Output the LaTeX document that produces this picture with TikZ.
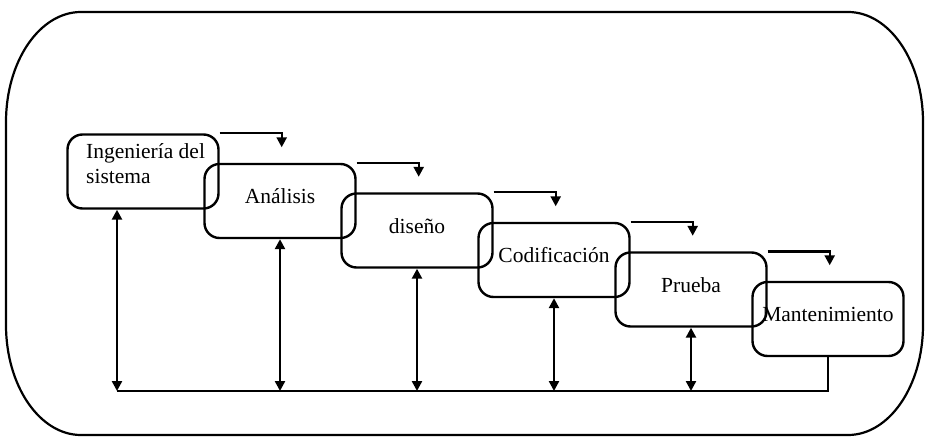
\documentclass[tikz,border=0pt]{standalone}
\usepackage{fontspec}
\setmainfont{Liberation Serif}
\usetikzlibrary{arrows.meta}
\tikzset{
  stage/.style={draw, line width=2.4pt, rounded corners=15pt, minimum width=151pt,
    minimum height=74pt, inner sep=0pt, text height=15pt, text depth=10pt,
    font=\fontsize{21.5}{25}\selectfont},
  flow/.style={line width=2.4pt, -{Triangle[length=10pt,width=10pt]}},
  feedback/.style={line width=2.4pt, {Triangle[length=10pt,width=10pt]}-{Triangle[length=10pt,width=10pt]}},
}
\begin{document}
\begin{tikzpicture}[x=1pt,y=1pt]
    \useasboundingbox (0,0) rectangle (926,437);
    % outer frame
    \draw[line width=2.2pt] (81,425) -- (848,425)
        arc[start angle=90,end angle=0,x radius=75,y radius=110] -- (923,112)
        arc[start angle=0,end angle=-90,x radius=75,y radius=110] -- (81,2)
        arc[start angle=270,end angle=180,x radius=75,y radius=110] -- (6,315)
        arc[start angle=180,end angle=90,x radius=75,y radius=110] -- cycle;
    % stages
    \foreach \i/\txt in {1/{},2/Análisis,3/diseño,4/Codificación,5/Prueba,6/Mantenimiento}
        \node[stage] (b\i) at ({143+137*(\i-1)},{265.5-29.5*(\i-1)}) {\txt};
    \node[anchor=north west, align=left, inner sep=0pt, font=\fontsize{21.5}{25}\selectfont]
        (t1) at (86,294) {Ingeniería del\\sistema};
    % forward arrows
    \foreach \i in {1,...,5}
        \draw[flow] (b\i.north east) -| ++(62,-14);
    % feedback
    \coordinate (base) at (117,46);
    \draw[feedback] (base |- b1.south) -- (base);
    \foreach \i in {2,...,5}
        \draw[feedback] (b\i.south) -- (b\i.south |- base);
    \draw[line width=2.4pt] (b6.south) |- (base);
\end{tikzpicture}
\end{document}
